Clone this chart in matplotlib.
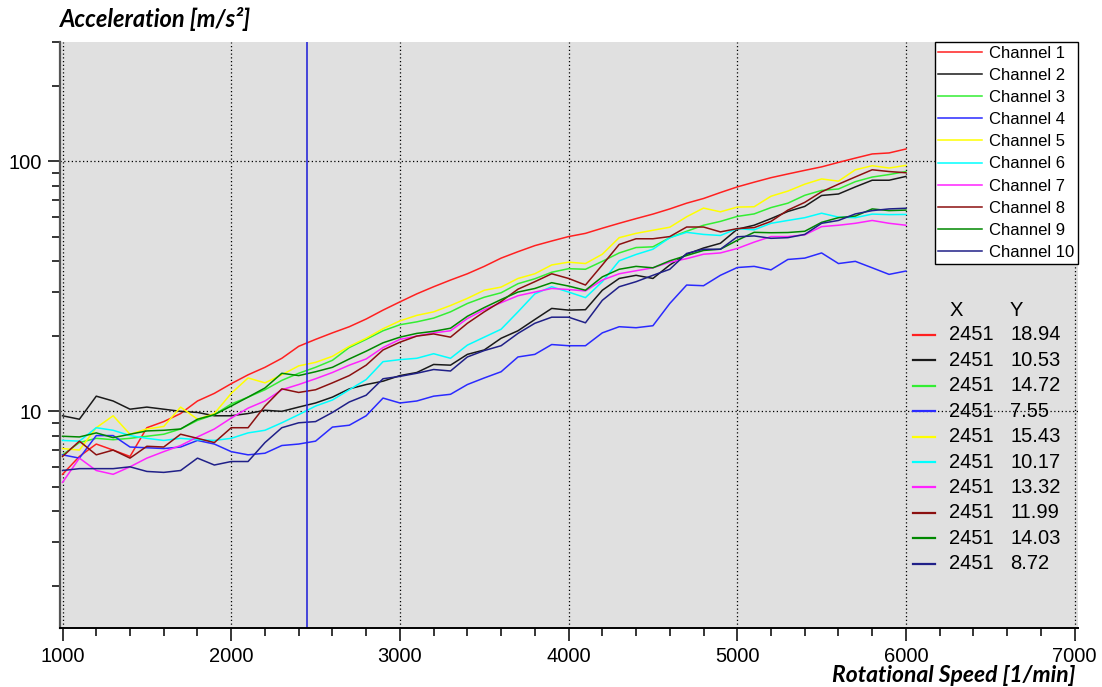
import numpy as np
import matplotlib
matplotlib.use("Agg")
import matplotlib.pyplot as plt
from matplotlib.lines import Line2D
from matplotlib.ticker import FixedLocator, MultipleLocator, LogLocator, FuncFormatter, NullFormatter

# data --------------------------------------------------------------------#
rpm = list(range(1000, 6001, 100))

ch1 = [5.6, 6.6, 7.4, 7.0, 6.6, 8.6, 9.1, 9.8, 11.0, 11.8, 12.9, 14.0, 15.0, 16.3, 18.2, 19.4,
       20.6, 21.8, 23.4, 25.4, 27.4, 29.5, 31.5, 33.5, 35.5, 38.0, 41.0, 43.5, 46.0, 48.0, 50.0,
       51.5, 54.0, 56.5, 59.0, 61.5, 64.5, 68.0, 71.0, 75.0, 79.0, 82.5, 86.0, 89.0, 92.0, 95.0,
       99.0, 103.0, 107.0, 108.0, 112.0]
ch2 = [9.6, 9.3, 11.5, 11.0, 10.2, 10.4, 10.2, 10.0, 9.9, 9.6, 9.6, 9.8, 10.1, 10.0, 10.4, 10.8,
       11.4, 12.3, 12.8, 13.2, 13.9, 14.3, 15.4, 15.3, 16.9, 17.6, 19.6, 21.0, 23.3, 25.8, 25.4,
       25.5, 30.5, 34.0, 35.0, 34.0, 38.5, 42.5, 45.0, 47.0, 53.5, 55.5, 59.0, 63.0, 66.0, 73.0,
       74.0, 79.0, 84.0, 84.0, 87.0]
ch3 = [6.7, 7.5, 7.8, 7.7, 7.8, 7.95, 8.1, 8.5, 9.2, 9.7, 10.7, 11.4, 12.2, 13.3, 14.2, 15.0,
       16.0, 18.0, 19.4, 21.0, 22.2, 22.8, 23.6, 25.0, 27.0, 28.6, 29.8, 32.4, 33.9, 36.0, 37.2,
       37.0, 39.8, 43.0, 45.2, 45.5, 49.5, 52.5, 55.5, 57.5, 60.2, 61.6, 65.3, 68.0, 73.1, 76.5,
       77.5, 82.9, 86.5, 88.5, 91.0]
ch4 = [6.7, 6.5, 8.0, 8.0, 7.2, 7.15, 7.1, 7.2, 7.65, 7.4, 6.9, 6.7, 6.8, 7.3, 7.4, 7.6,
       8.65, 8.8, 9.6, 11.3, 10.8, 11.0, 11.5, 11.7, 12.8, 13.6, 14.4, 16.5, 16.9, 18.5, 18.3,
       18.3, 20.6, 21.8, 21.6, 22.0, 27.0, 32.0, 31.8, 35.0, 37.6, 38.0, 36.8, 40.5, 41.0, 43.0,
       39.0, 39.8, 37.5, 35.3, 36.4]
ch5 = [7.1, 7.0, 8.6, 9.6, 8.1, 8.5, 8.7, 10.4, 9.3, 9.8, 11.8, 13.6, 13.0, 14.0, 15.2, 15.7,
       16.6, 18.2, 19.6, 21.4, 23.0, 24.2, 25.0, 26.5, 28.3, 30.5, 31.4, 34.0, 35.5, 38.5, 39.5,
       39.0, 42.5, 49.5, 51.5, 53.0, 54.5, 60.0, 65.0, 62.8, 65.6, 65.8, 72.5, 76.0, 81.0, 85.0,
       83.3, 92.5, 96.0, 94.0, 96.3]
ch6 = [7.65, 7.6, 8.6, 8.4, 8.0, 7.8, 7.65, 7.8, 7.7, 7.65, 7.8, 8.2, 8.4, 9.0, 9.7, 10.5,
       11.1, 12.2, 13.4, 15.8, 16.1, 16.3, 17.0, 16.3, 18.4, 19.8, 21.3, 25.0, 29.5, 31.5, 30.0,
       28.5, 33.0, 40.0, 42.4, 44.5, 49.5, 52.0, 51.0, 50.5, 53.8, 53.2, 56.5, 58.0, 59.5, 62.0,
       59.8, 59.5, 61.5, 61.2, 61.3]
ch7 = [5.2, 6.5, 5.8, 5.6, 6.0, 6.5, 6.9, 7.3, 7.9, 8.5, 9.4, 10.3, 11.0, 12.2, 12.8, 13.5,
       14.3, 15.3, 16.2, 18.0, 19.4, 20.0, 20.6, 21.0, 23.5, 25.5, 27.2, 29.0, 30.0, 31.0, 30.7,
       30.3, 33.5, 35.5, 36.5, 37.5, 39.5, 40.8, 42.5, 43.0, 44.8, 47.5, 50.0, 50.0, 50.8, 54.8,
       55.5, 56.5, 58.0, 56.5, 55.5]
ch8 = [6.6, 7.6, 6.7, 7.0, 6.5, 7.25, 7.2, 8.1, 7.8, 7.5, 8.6, 8.6, 10.5, 12.3, 11.9, 12.2,
       13.0, 13.9, 15.3, 17.6, 18.9, 20.0, 20.4, 19.8, 22.5, 25.0, 27.5, 30.8, 33.0, 35.5, 34.0,
       32.0, 38.5, 46.5, 49.0, 49.0, 50.0, 54.6, 54.6, 52.2, 53.8, 54.3, 57.5, 63.8, 68.5, 75.5,
       81.0, 86.6, 92.5, 91.0, 90.0]
ch9 = [7.95, 7.9, 8.2, 7.85, 8.1, 8.35, 8.4, 8.5, 9.3, 9.7, 10.5, 11.4, 12.4, 14.2, 13.9, 14.4,
       15.0, 16.2, 17.4, 18.8, 19.8, 20.5, 20.9, 21.5, 24.0, 26.0, 28.0, 30.0, 31.0, 32.7, 31.7,
       30.5, 34.5, 37.0, 38.0, 37.5, 40.0, 42.0, 44.0, 44.5, 48.3, 52.0, 51.8, 51.9, 52.5, 57.0,
       59.5, 60.4, 64.5, 63.5, 63.8]
ch10 = [5.8, 5.9, 5.9, 5.9, 6.0, 5.75, 5.7, 5.8, 6.5, 6.1, 6.3, 6.3, 7.5, 8.6, 9.0, 9.1,
        9.9, 10.9, 11.6, 13.5, 13.8, 14.2, 14.7, 14.5, 16.5, 17.5, 18.3, 20.5, 22.5, 23.8, 23.8,
        22.6, 27.8, 31.5, 33.0, 35.0, 37.0, 42.8, 44.5, 44.5, 49.9, 50.3, 49.2, 49.5, 51.0, 56.5,
        58.0, 61.6, 63.5, 64.5, 64.9]

channels = [ch1, ch2, ch3, ch4, ch5, ch6, ch7, ch8, ch9, ch10]
labels = ["Channel %d" % (i + 1) for i in range(10)]
colors = ["#ff2020", "#1a1a1a", "#33ee33", "#2a2aff", "#ffff00",
          "#00ffff", "#ff22ff", "#8b1010", "#008800", "#202088"]

cursor_x = 2451
cursor_y = ["18.94", "10.53", "14.72", "7.55", "15.43", "10.17", "13.32", "11.99", "14.03", "8.72"]

# figure --------------------------------------------------------------------#
W, H = 1102, 687
fig = plt.figure(figsize=(W / 100, H / 100), dpi=100)
fig.patch.set_facecolor("white")

def fx(px):
    return px / W

def fy(py):
    return 1 - py / H

ax = fig.add_axes([fx(60), fy(628), fx(1078) - fx(60), fy(42) - fy(628)])
ax.set_facecolor("#e0e0e0")

for vals, col in zip(channels, colors):
    ax.plot(rpm, vals, color=col, lw=1.1)

ax.axvline(cursor_x, color="#2a2ad8", lw=1.2)

ax.set_yscale("log")
ax.set_ylim(1.36, 300)
ax.set_xlim(985, 7020)

ax.xaxis.set_major_locator(FixedLocator(range(1000, 7001, 1000)))
ax.xaxis.set_minor_locator(MultipleLocator(200))
ax.yaxis.set_major_locator(FixedLocator([10, 100]))
ax.yaxis.set_minor_locator(LogLocator(base=10, subs=np.arange(2, 10)))
ax.yaxis.set_major_formatter(FuncFormatter(lambda v, p: "%g" % v))
ax.yaxis.set_minor_formatter(NullFormatter())

ax.grid(which="major", linestyle=(0, (1, 2)), color="black", lw=0.9)

for s in ["top", "right"]:
    ax.spines[s].set_visible(False)
ax.spines["left"].set_color("#555555")
ax.spines["left"].set_linewidth(1.6)
ax.spines["bottom"].set_color("black")
ax.spines["bottom"].set_linewidth(1.4)

tickfont = "Liberation Sans"
ax.tick_params(axis="x", which="major", length=9, width=1.1, labelsize=14.5, pad=5)
ax.tick_params(axis="y", which="major", length=9, width=1.1, labelsize=14.5, pad=4)
ax.tick_params(which="minor", length=6, width=1.1)
for lab in ax.get_xticklabels() + ax.get_yticklabels():
    lab.set_fontfamily(tickfont)

# legend
handles = [Line2D([], [], color=c, lw=1.1) for c in colors]
leg = ax.legend(handles, labels, loc="upper right", borderaxespad=0, fancybox=False,
                framealpha=1, edgecolor="black", facecolor="white",
                prop={"family": tickfont, "size": 12}, handlelength=2.6,
                handletextpad=0.45, labelspacing=0.43, borderpad=0.22)
leg.get_frame().set_linewidth(1.0)

# cursor readout table
fig.text(fx(950), fy(311), "X", fontsize=14.5, family=tickfont, va="center")
fig.text(fx(1010), fy(311), "Y", fontsize=14.5, family=tickfont, va="center")
for i, (col, val) in enumerate(zip(colors, cursor_y)):
    yy = 335 + i * 25.4
    fig.add_artist(Line2D([fx(913), fx(935)], [fy(yy), fy(yy)], color=col, lw=1.6))
    fig.text(fx(949), fy(yy), str(cursor_x), fontsize=14.5, family=tickfont, va="center")
    fig.text(fx(1010), fy(yy), val, fontsize=14.5, family=tickfont, va="center")

# axis titles
fig.text(fx(60), fy(19), "Acceleration [m/s²]", fontsize=17, family="Lato",
         weight="bold", style="italic", va="center", ha="left")
fig.text(fx(1076), fy(686), "Rotational Speed [1/min]", fontsize=16.5, family="Lato",
         weight="bold", style="italic", va="bottom", ha="right")

fig.savefig("out.png", dpi=100)
